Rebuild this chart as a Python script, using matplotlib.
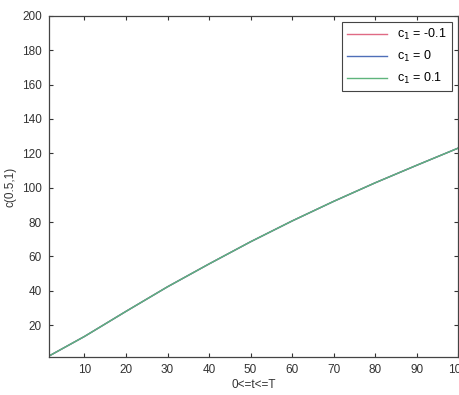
import matplotlib
matplotlib.use('Agg')
import matplotlib.pyplot as plt

# ── Data ──────────────────────────────────────────────────────────────────
t_vals = [1, 10, 20, 30, 40, 50, 60, 70, 80, 90, 100]
c_neg = [1.4, 13.4, 28.0, 42.3, 55.6, 68.5, 80.6, 92.0, 102.8, 113.0, 123.0]
c_zero = [1.4, 13.4, 28.0, 42.3, 55.6, 68.5, 80.6, 92.0, 102.8, 113.0, 123.0]
c_pos = [1.4, 13.4, 28.0, 42.3, 55.6, 68.5, 80.6, 92.0, 102.8, 113.0, 123.0]
labels = ['c$_1$ = -0.1', 'c$_1$ = 0', 'c$_1$ = 0.1']
colors = ['#e06a84', '#4f6fb8', '#5fb47c']
x_ticks = [10, 20, 30, 40, 50, 60, 70, 80, 90, 100]
y_ticks = [20, 40, 60, 80, 100, 120, 140, 160, 180, 200]

plt.rcParams['font.family'] = ['Liberation Sans', 'DejaVu Sans']

fig = plt.figure(figsize=(4.6, 3.95), dpi=100)
ax = fig.add_axes([0.106, 0.096, 0.89, 0.864])

for series, lab, col in zip([c_neg, c_zero, c_pos], labels, colors):
    ax.plot(t_vals, series, color=col, linewidth=1.0, label=lab)

ax.set_xlim(1.4, 100)
ax.set_ylim(1.4, 200)
ax.set_xticks(x_ticks)
ax.set_yticks(y_ticks)
ax.tick_params(direction='in', length=3, width=0.8, top=True, right=True,
               labelsize=8.5, colors='#333333', pad=5)
for sp in ax.spines.values():
    sp.set_color('#444444')
    sp.set_linewidth(0.9)

ax.set_xlabel('0<=t<=T', fontsize=8.5, color='#333333', labelpad=2)
ax.set_ylabel('c(0.5,1)', fontsize=8.5, color='#333333', labelpad=4)

leg = ax.legend(loc='upper right', fontsize=9, fancybox=False,
                edgecolor='#444444', framealpha=1, handlelength=3.2,
                borderaxespad=0.5, labelspacing=0.55)
leg.get_frame().set_linewidth(0.8)

plt.savefig('out.png', dpi=100)
plt.close()
